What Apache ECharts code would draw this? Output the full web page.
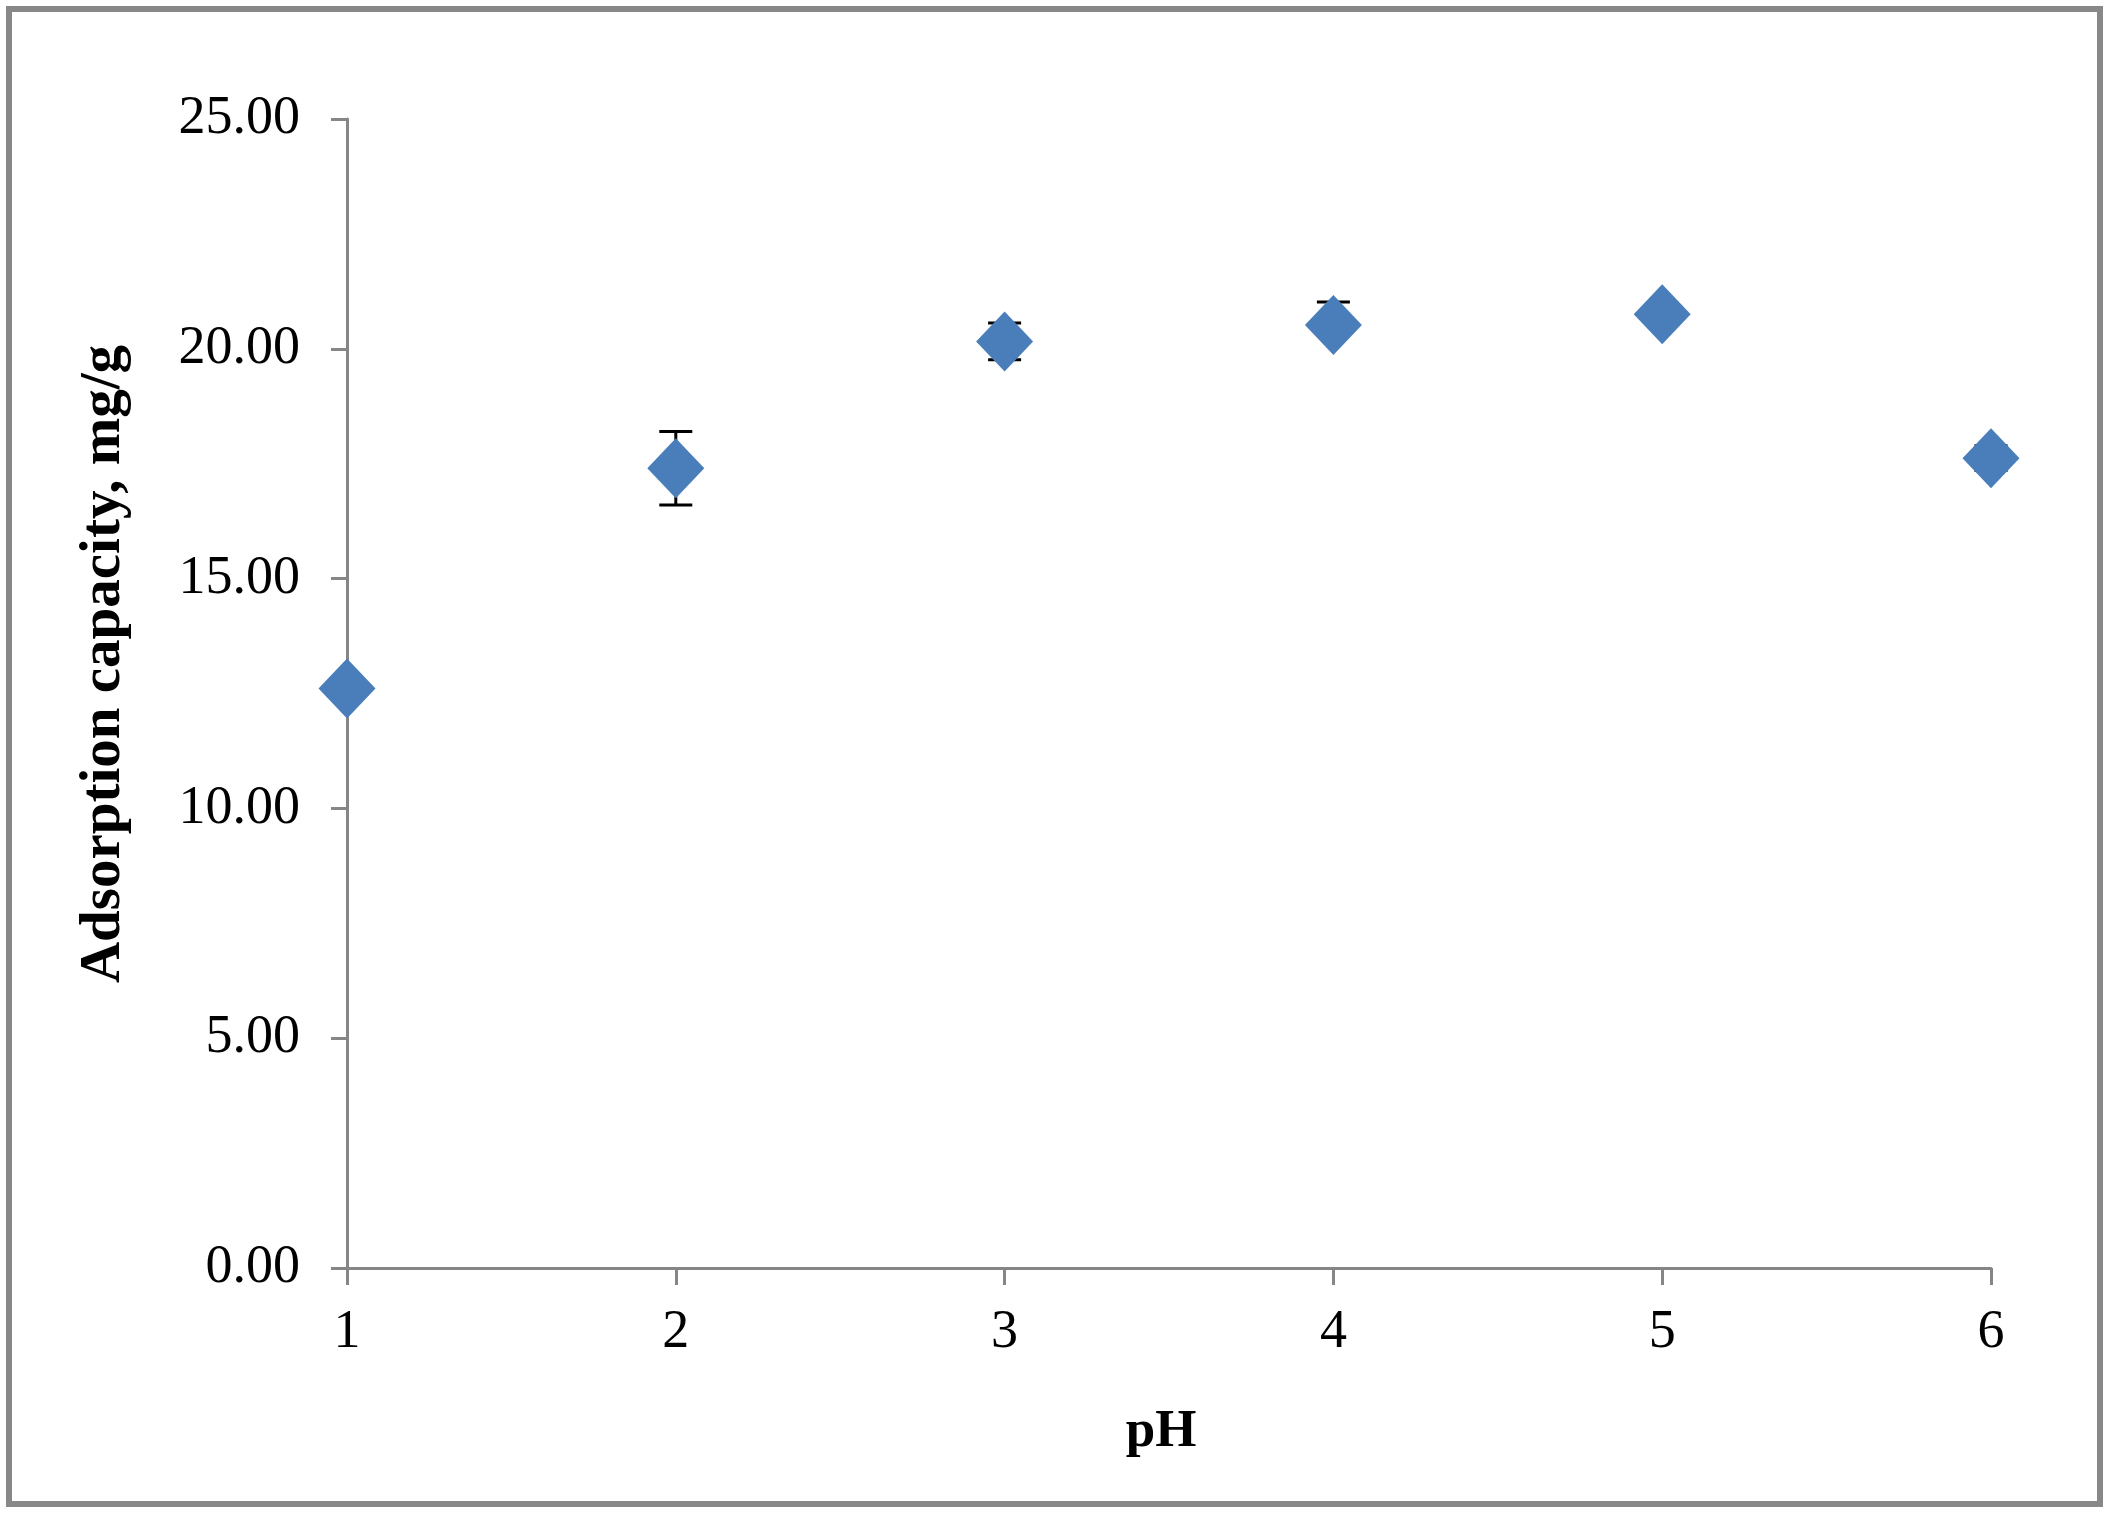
<!DOCTYPE html>
<html>
<head>
<meta charset="utf-8">
<script src="https://cdn.jsdelivr.net/npm/echarts@6/dist/echarts.min.js"></script>
<style>
  html, body { margin: 0; padding: 0; background: #fff; }
  #chart { width: 2109px; height: 1516px; }
</style>
</head>
<body>
<div id="chart"></div>
<script>
// pH values and adsorption capacity (mg/g)
const phValues = [1, 2, 3, 4, 5, 6]
const capacity = [12.61, 17.40, 20.16, 20.52, 20.75, 17.62]
// error bars, upper and lower part
const errUp = [0, 0.80, 0.40, 0.50, 0, 0.27]
const errDown = [0, 0.80, 0.40, 0.20, 0, 0.27]
const yTicks = { min: 0, max: 25, step: 5 }

const serif = '"Liberation Serif", "Times New Roman", serif'
const axisGray = '#868686'

var myChart = echarts.init(document.getElementById('chart'))

var points = phValues.map((x, i) => [x, capacity[i]])
var bars = phValues.map((x, i) => [x, capacity[i], errUp[i], errDown[i]])

function renderErrorBar(params, api){
    var x = api.value(0)
    var y = api.value(1)
    var up = api.value(2)
    var dn = api.value(3)
    if(!up && !dn) return null
    var hi = api.coord([x, y + up])
    var lo = api.coord([x, y - dn])
    var w = 16.5
    var style = { stroke: '#000', lineWidth: 3 }
    return {
        type: 'group',
        children: [
            { type: 'line', shape: { x1: hi[0], y1: hi[1], x2: lo[0], y2: lo[1] }, style: style },
            { type: 'line', shape: { x1: hi[0] - w, y1: hi[1], x2: hi[0] + w, y2: hi[1] }, style: style },
            { type: 'line', shape: { x1: lo[0] - w, y1: lo[1], x2: lo[0] + w, y2: lo[1] }, style: style }
        ]
    }
}

myChart.setOption({
    animation: false,
    backgroundColor: '#fff',
    grid: {
        left: 347,
        right: 118,
        top: 119,
        bottom: 248,
        containLabel: false,
        outerBoundsMode: 'none'
    },
    xAxis: {
        type: 'value',
        min: 1,
        max: 6,
        interval: 1,
        name: 'pH',
        nameLocation: 'middle',
        nameGap: 138,
        nameTextStyle: { fontFamily: serif, fontWeight: 'bold', fontSize: 53, color: '#000', padding: [0, 16, 0, 0] },
        axisLine: { show: true, onZero: false, lineStyle: { color: axisGray, width: 3 } },
        axisTick: { show: true, length: 17, lineStyle: { color: axisGray, width: 3 } },
        axisLabel: { margin: 38, fontFamily: serif, fontSize: 54, color: '#000' },
        splitLine: { show: false }
    },
    yAxis: {
        type: 'value',
        min: yTicks.min,
        max: yTicks.max,
        interval: yTicks.step,
        axisLine: { show: true, lineStyle: { color: axisGray, width: 3 } },
        axisTick: { show: true, length: 16, lineStyle: { color: axisGray, width: 3 } },
        axisLabel: {
            margin: 47,
            fontFamily: serif,
            fontSize: 54,
            color: '#000',
            formatter: v => v.toFixed(2)
        },
        splitLine: { show: false }
    },
    graphic: [
        {
            type: 'rect',
            shape: { x: 9, y: 9, width: 2091, height: 1495 },
            style: { fill: 'none', stroke: '#888888', lineWidth: 6 },
            silent: true
        },
        {
            type: 'text',
            x: 104,
            y: 664,
            rotation: Math.PI / 2,
            style: {
                text: 'Adsorption capacity, mg/g',
                font: 'bold 57px ' + serif,
                fill: '#000',
                align: 'center',
                verticalAlign: 'middle'
            },
            silent: true
        }
    ],
    series: [
        {
            type: 'custom',
            renderItem: renderErrorBar,
            data: bars,
            clip: false,
            z: 1
        },
        {
            type: 'scatter',
            data: points,
            symbol: 'diamond',
            symbolSize: [57, 60],
            itemStyle: { color: '#4a7ebb', opacity: 1 },
            z: 2
        }
    ]
})
</script>
</body>
</html>
